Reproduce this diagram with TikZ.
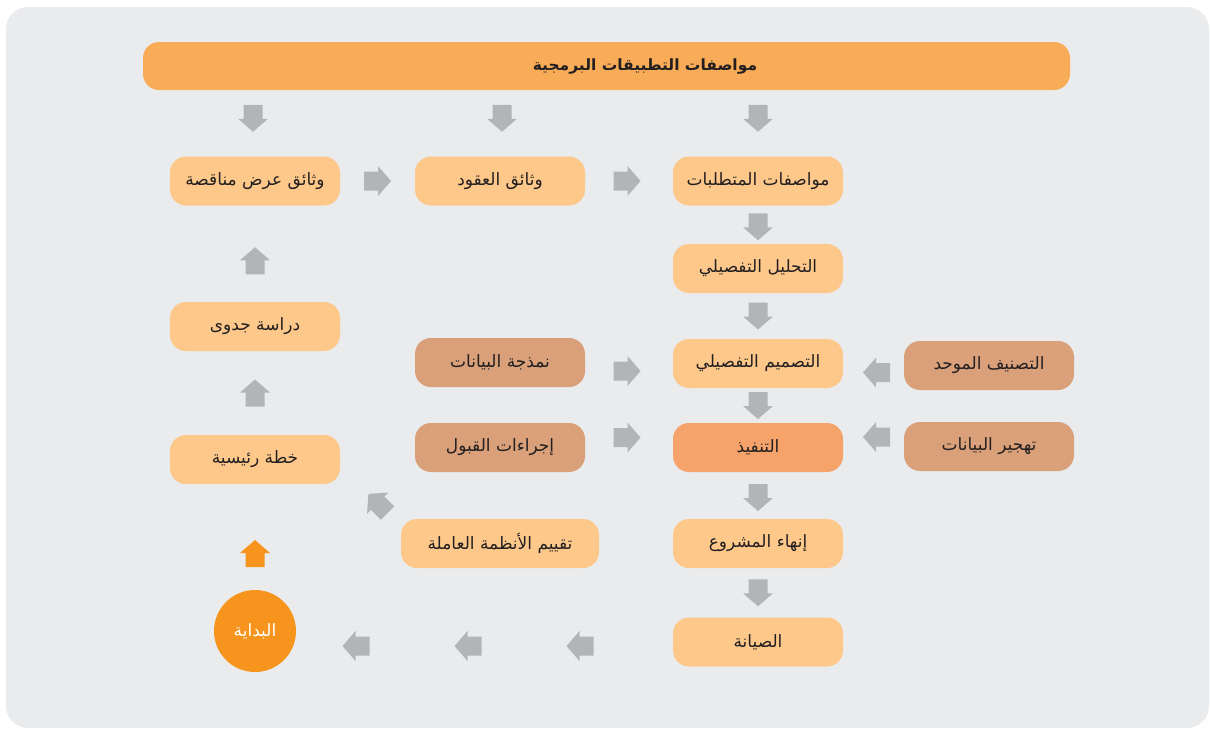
\documentclass[tikz,border=0pt]{standalone}
\usepackage{fontspec}
\newfontfamily\arabicfont[Script=Arabic]{DejaVu Sans}
\TeXXeTstate=1
\definecolor{panelgray}{RGB}{234,235,237}
\definecolor{barorange}{RGB}{249,172,87}
\definecolor{boxlight}{RGB}{253,200,138}
\definecolor{boxbrown}{RGB}{217,160,122}
\definecolor{boximpl}{RGB}{245,163,106}
\definecolor{arrgray}{RGB}{179,180,182}
\definecolor{startorange}{RGB}{247,148,30}
\definecolor{txtdark}{RGB}{35,31,32}
\usetikzlibrary{calc}

\begin{document}
\begin{tikzpicture}[x=1pt, y=-1pt,
  stage/.style={
    rectangle, rounded corners=16pt,
    minimum width=170pt, minimum height=49pt,
    inner sep=0pt, fill=boxlight,
    font=\arabicfont\fontsize{17}{20}\selectfont,
    text=txtdark
  },
  feed/.style={stage, fill=boxbrown},
  garr/.style={fill=arrgray},
  blockarr/.pic={
    \path[pic actions] (-13.5,-9.5) -- (0.5,-9.5) -- (0.5,-15) -- (13.5,0)
      -- (0.5,15) -- (0.5,9.5) -- (-13.5,9.5) -- cycle;
  }
]
\useasboundingbox (0,0) rectangle (1210,729);
\fill[panelgray, rounded corners=22pt] (6,7) rectangle (1209,728);

% top bar
\node[rectangle, rounded corners=16pt, fill=barorange, minimum width=927pt,
  minimum height=48pt, inner sep=0pt] (spec) at (606.5,66) {};
\node[font=\arabicfont\bfseries\fontsize{15.5}{18}\selectfont, text=txtdark]
  (spectitle) at (645,66) {\beginR مواصفات التطبيقات البرمجية\endR};

% left column
\node[stage] (tender) at (255,181)   {\beginR وثائق عرض مناقصة\endR};
\node[stage] (feas)   at (255,326.5) {\beginR دراسة جدوى\endR};
\node[stage] (plan)   at (255,459.5) {\beginR خطة رئيسية\endR};
\node[circle, fill=startorange, minimum size=82pt, inner sep=0pt, text=white,
  font=\arabicfont\fontsize{17}{20}\selectfont] (start) at (255,631) {\beginR البداية\endR};

% middle column
\node[stage] (contracts) at (500,181)   {\beginR وثائق العقود\endR};
\node[feed]  (datamodel) at (500,362.5) {\beginR نمذجة البيانات\endR};
\node[feed]  (accept)    at (500,447.5) {\beginR إجراءات القبول\endR};
\node[stage, minimum width=198pt] (evalsys) at (500,543.5) {\beginR تقييم الأنظمة العاملة\endR};

% main column
\node[stage] (reqspec)  at (758,181)   {\beginR مواصفات المتطلبات\endR};
\node[stage] (analysis) at (758,268.5) {\beginR التحليل التفصيلي\endR};
\node[stage] (design)   at (758,363.5) {\beginR التصميم التفصيلي\endR};
\node[stage, fill=boximpl] (impl) at (758,447.5) {\beginR التنفيذ\endR};
\node[stage] (closing)  at (758,543.5) {\beginR إنهاء المشروع\endR};
\node[stage] (maint)    at (758,642)   {\beginR الصيانة\endR};

% right column
\node[feed] (classif) at (989,365.5) {\beginR التصنيف الموحد\endR};
\node[feed] (datamig) at (989,446.5) {\beginR تهجير البيانات\endR};

% block arrows
\pic[garr, rotate=-90] at ($(spec.south -| tender)!.5!(tender.north)+(-2,-5)$) {blockarr};
\pic[garr, rotate=-90] at ($(spec.south -| contracts)!.5!(contracts.north)+(2,-5)$) {blockarr};
\pic[garr, rotate=-90] at ($(spec.south -| reqspec)!.5!(reqspec.north)+(0,-5)$) {blockarr};

\pic[garr] at ($(tender.east)!.5!(contracts.west)$) {blockarr};
\pic[garr] at ($(contracts.east)!.5!(reqspec.west)+(-2,0)$) {blockarr};

\pic[garr, rotate=-90] at ($(reqspec.south)!.5!(analysis.north)+(0,2)$) {blockarr};
\pic[garr, rotate=-90] at ($(analysis.south)!.5!(design.north)$) {blockarr};
\pic[garr, rotate=-90] at ($(design.south)!.5!(impl.north)$) {blockarr};
\pic[garr, rotate=-90] at ($(impl.south)!.5!(closing.north)+(0,2)$) {blockarr};
\pic[garr, rotate=-90] at ($(closing.south)!.5!(maint.north)$) {blockarr};

\pic[garr] at ($(datamodel.east)!.5!(design.west)+(-2,8)$) {blockarr};
\pic[garr] at ($(accept.east)!.5!(impl.west)+(-2,-10)$) {blockarr};
\pic[garr, rotate=180] at ($(design.east)!.5!(classif.west)+(3,8)$) {blockarr};
\pic[garr, rotate=180] at ($(impl.east)!.5!(datamig.west)+(3,-10)$) {blockarr};

\pic[garr, rotate=180] at (580,646) {blockarr};
\pic[garr, rotate=180] at (468,646) {blockarr};
\pic[garr, rotate=180] at (356,646) {blockarr};

\pic[fill=startorange, rotate=90] at (255,553.5) {blockarr};
\pic[garr, rotate=90] at ($(plan.north)!.5!(feas.south)$) {blockarr};
\pic[garr, rotate=90] at ($(feas.north)!.5!(tender.south)+(0,7)$) {blockarr};
\pic[garr, rotate=135] at (378,503.5) {blockarr};
\end{tikzpicture}
\end{document}
